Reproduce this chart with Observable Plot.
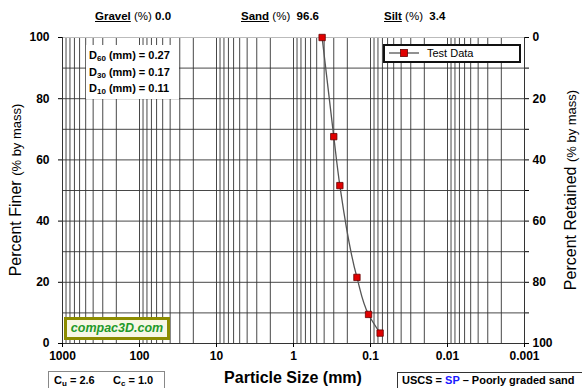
<!DOCTYPE html>
<html>
<head>
<meta charset="utf-8">
<script src="https://cdn.jsdelivr.net/npm/d3@7"></script>
<script src="https://cdn.jsdelivr.net/npm/@observablehq/plot@0.6"></script>
<style>
  html, body { margin: 0; padding: 0; background: white; }
  #wrap { position: relative; width: 582px; height: 388px; overflow: hidden; font-family: "Liberation Sans", Arial, sans-serif; }
  .ov { position: absolute; white-space: nowrap; color: #000; }
  .hdr { font-size: 11.5px; font-weight: bold; top: 10px; }
  .hdr u { font-weight: bold; }
  .hdr .p { font-weight: normal; }
  sub { font-size: 8px; vertical-align: -2px; line-height: 0; }
</style>
</head>
<body>
<div id="wrap"></div>
<script>
// ---- data ----
const sieveSizes = [0.425, 0.3, 0.25, 0.15, 0.106, 0.075];   // mm
const percentFiner = [100, 67.6, 51.6, 21.6, 9.5, 3.4];      // %
const seriesName = "Test Data";
const xTickValues = [1000, 100, 10, 1, 0.1, 0.01, 0.001];
const xTickLabels = ["1000", "100", "10", "1", "0.1", "0.01", "0.001"];
const yTickValues = [0, 20, 40, 60, 80, 100];
const yGridValues = [10, 20, 30, 40, 50, 60, 70, 80, 90];
const rightTickValues = [0, 10, 20, 30, 40, 50, 60, 70, 80, 90, 100];
const fractions = ["Gravel", "Sand", "Silt"];
const fractionValues = ["0.0", "96.6", "3.4"];
const dLabels = ["60", "30", "10"];
const dValues = ["0.27", "0.17", "0.11"];
const cu = "2.6", cc = "1.0";
const uscsCode = "SP", uscsText = "Poorly graded sand";

const data = sieveSizes.map((s, i) => ({size: s, finer: percentFiner[i]}));
const xTicks = xTickValues.map((v, i) => ({v, label: xTickLabels[i]}));

const chart = Plot.plot({
  width: 582,
  height: 388,
  marginLeft: 62,
  marginRight: 58,
  marginTop: 37,
  marginBottom: 45,
  style: {fontFamily: "Liberation Sans, Arial, sans-serif", fontSize: "12px", fontWeight: "bold", background: "white", color: "#000"},
  x: {type: "log", domain: [1000, 0.001], label: null},
  y: {domain: [0, 100], label: null},
  marks: [
    Plot.gridX({ticks: 40, stroke: "#333", strokeOpacity: 1, strokeWidth: 0.9}),
    Plot.gridY(yGridValues, {stroke: "#333", strokeOpacity: 1, strokeWidth: 0.9}),
    Plot.ruleY([100], {stroke: "#bbb"}),
    Plot.ruleY([0], {stroke: "#333"}),
    Plot.ruleX([1000], {stroke: "#333"}),
    Plot.ruleX([0.001], {stroke: "#333"}),
    Plot.axisX(xTickValues, {anchor: "bottom", tickSize: 4, text: null, label: null}),
    Plot.text(xTicks, {x: "v", text: "label", frameAnchor: "bottom", dy: 16, fontSize: 12, fontWeight: "bold", fill: "#000"}),
    Plot.axisY(yTickValues, {anchor: "left", tickSize: 4, tickPadding: 9, label: null}),
    Plot.axisY(rightTickValues, {anchor: "right", tickSize: 4, tickPadding: 4, tickFormat: d => d % 20 === 0 ? String(100 - d) : "", label: null}),
    Plot.line(data, {x: "size", y: "finer", curve: "monotone-y", stroke: "#555", strokeWidth: 1.3}),
    Plot.dot(data, {x: "size", y: "finer", symbol: "square", r: 3.6, fill: "#e00000", stroke: "#600", strokeWidth: 0.8})
  ]
});

const wrap = document.getElementById("wrap");
wrap.appendChild(chart);

function ov(html, css, cls) {
  const d = document.createElement("div");
  d.className = "ov" + (cls ? " " + cls : "");
  d.innerHTML = html;
  Object.assign(d.style, css);
  wrap.appendChild(d);
  return d;
}

// header fractions
const hdrLeft = [95, 241, 384];
fractions.forEach((f, i) => {
  ov(`<u>${f}</u> <span class="p">(%)</span>&nbsp;${i ? "&nbsp;" : ""}${fractionValues[i]}`, {left: hdrLeft[i] + "px"}, "hdr");
});

// D box
ov(dLabels.map((l, i) => `D<sub>${l}</sub> (mm) = ${dValues[i]}`).join("<br>"),
  {left: "86px", top: "45px", width: "90px", padding: "2px 0 2px 3px", fontSize: "11px", fontWeight: "bold", lineHeight: "16.5px", background: "white"});

// legend
ov(`<svg width="40" height="12" style="vertical-align:-2px"><line x1="4" x2="34" y1="6" y2="6" stroke="#555" stroke-width="1.3"/><rect x="15.5" y="2.5" width="7" height="7" fill="#e00000" stroke="#600" stroke-width="0.8"/></svg><span style="margin-left:2px">${seriesName}</span>`,
  {left: "383px", top: "44px", width: "134px", height: "15px", border: "2px solid #111", background: "white", fontSize: "11px", lineHeight: "15px"});

// compac3D badge
ov("compac3D.com", {left: "64px", top: "317px", width: "100px", height: "17px", border: "3px solid #8c8c00", background: "#f7f7e6",
  color: "#1f9a2a", fontStyle: "italic", fontWeight: "bold", fontSize: "12.5px", lineHeight: "17px", textAlign: "center"});

// axis titles
ov(`<span style="font-size:16px">Percent Finer</span> <span style="font-size:13px">(% by mass)</span>`,
  {left: "16px", top: "190px", transform: "translate(-50%,-50%) rotate(-90deg)", transformOrigin: "center"});
ov(`<span style="font-size:16px">Percent Retained</span> <span style="font-size:13px">(% by mass)</span>`,
  {left: "571px", top: "190px", transform: "translate(-50%,-50%) rotate(-90deg)", transformOrigin: "center"});
ov("Particle Size (mm)", {left: "293px", top: "369px", transform: "translateX(-50%)", fontSize: "16px", fontWeight: "bold"});

// Cu / Cc box
ov(`C<sub>u</sub> = ${cu}&nbsp;&nbsp;&nbsp;&nbsp;&nbsp;&nbsp;C<sub>c</sub> = ${cc}`,
  {left: "48px", top: "371px", width: "110px", height: "17px", border: "1px solid #888", padding: "0 0 0 5px", fontSize: "11px", fontWeight: "bold", lineHeight: "17px", background: "white"});

// USCS box
ov(`USCS = <span style="color:#1a1aff">${uscsCode}</span> – ${uscsText}`,
  {left: "397px", top: "372px", width: "190px", height: "17px", border: "1px solid #333", padding: "0 0 0 4px", fontSize: "11px", fontWeight: "bold", lineHeight: "15px", background: "white"});
</script>
</body>
</html>
